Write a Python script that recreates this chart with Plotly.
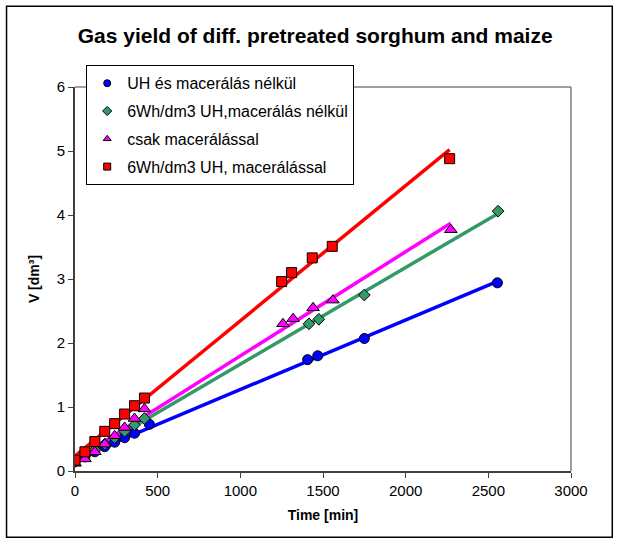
import numpy as np
import plotly.graph_objects as go

# ---- data ----
series_names = ["UH és macerálás nélkül", "6Wh/dm3 UH,macerálás nélkül",
                "csak macerálással", "6Wh/dm3 UH, macerálással"]

x_blue = [0, 60, 120, 180, 240, 300, 360, 450, 1407, 1468, 1750, 2555]
y_blue = [0.15, 0.22, 0.30, 0.38, 0.45, 0.52, 0.59, 0.73, 1.74, 1.80, 2.07, 2.94]

x_green = [0, 60, 120, 180, 240, 300, 360, 420, 1415, 1475, 1750, 2559]
y_green = [0.15, 0.24, 0.33, 0.42, 0.52, 0.62, 0.72, 0.82, 2.30, 2.37, 2.75, 4.06]

x_mag = [0, 60, 120, 180, 240, 300, 360, 420, 1258, 1319, 1440, 1560, 2273]
y_mag = [0.12, 0.19, 0.30, 0.42, 0.55, 0.68, 0.82, 0.97, 2.30, 2.38, 2.55, 2.67, 3.77]

x_red = [0, 60, 120, 180, 240, 300, 360, 420, 1250, 1310, 1435, 1556, 2266]
y_red = [0.17, 0.30, 0.46, 0.62, 0.74, 0.89, 1.02, 1.14, 2.96, 3.10, 3.33, 3.51, 4.88]

x_ticks = [0, 500, 1000, 1500, 2000, 2500, 3000]
y_ticks = [0, 1, 2, 3, 4, 5, 6]

colors = ["#0000FF", "#339966", "#FF00FF", "#FF0000"]
symbols = ["circle", "diamond", "triangle-up", "square"]
msizes = [10, 9, 11, 10]

W, H = 618, 542
L, R, T, B = 74.5, 47.3, 86.7, 71.3
pw, ph = W - L - R, H - T - B

def px(xp):
    return (xp - L) / pw

def py(yp):
    return (H - B - yp) / ph

fig = go.Figure()
data = [(x_blue, y_blue), (x_green, y_green), (x_mag, y_mag), (x_red, y_red)]

# trendlines (linear fits of each series)
for (xs, ys), c in zip(data, colors):
    k, b0 = np.polyfit(xs, ys, 1)
    xl = np.linspace(min(xs), max(xs), 2)
    fig.add_trace(go.Scatter(x=xl, y=k * xl + b0, mode="lines",
                             line=dict(color=c, width=3.5),
                             showlegend=False, hoverinfo="skip"))

# markers
for (xs, ys), c, s, m, n in zip(data, colors, symbols, msizes, series_names):
    fig.add_trace(go.Scatter(x=xs, y=ys, mode="markers", name=n,
                             marker=dict(color=c, symbol=s, size=m,
                                         line=dict(color="black", width=1)),
                             showlegend=False))

# legend entries (small markers)
for i, (c, s, n) in enumerate(zip(colors, symbols, series_names)):
    fig.add_trace(go.Scatter(x=[None], y=[None], mode="markers", name=n,
                             legendgroup=str(i),
                             marker=dict(color=c, symbol=s, size=7,
                                         line=dict(color="black", width=1))))

fig.update_layout(
    width=W, height=H,
    margin=dict(l=L, r=R, t=T, b=B),
    paper_bgcolor="white", plot_bgcolor="white",
    font=dict(family="Liberation Sans, Arial", color="black", size=15),
    title=dict(text="<b>Gas yield of diff. pretreated sorghum and maize</b>",
               x=0.51, xanchor="center", y=1 - 36 / H, yanchor="middle",
               font=dict(size=21, color="black")),
    xaxis=dict(range=[0, 3000], tickvals=x_ticks, showgrid=False, zeroline=False,
               showline=True, linecolor="#404040", linewidth=2,
               ticks="outside", ticklen=5, tickcolor="#404040", tickwidth=1,
               tickfont=dict(size=15),
               title=dict(text="<b>Time [min]</b>", font=dict(size=14), standoff=12)),
    yaxis=dict(range=[0, 6], tickvals=y_ticks, showgrid=False, zeroline=False,
               showline=True, linecolor="#404040", linewidth=2,
               ticks="outside", ticklen=5, tickcolor="#404040", tickwidth=1,
               tickfont=dict(size=15),
               title=dict(text="<b>V [dm³]</b>", font=dict(size=14), standoff=14)),
    legend=dict(x=px(85.7), y=py(65), xanchor="left", yanchor="top",
                bgcolor="white", bordercolor="black", borderwidth=1,
                font=dict(size=16), tracegroupgap=4, traceorder="grouped"),
    shapes=[
        # plot area border (top/right) in gray
        dict(type="line", xref="paper", yref="paper", x0=0, x1=1, y0=1, y1=1,
             line=dict(color="#808080", width=1.5), layer="below"),
        dict(type="line", xref="paper", yref="paper", x0=1, x1=1, y0=0, y1=1,
             line=dict(color="#808080", width=1.5), layer="below"),
        # outer chart border
        dict(type="rect", xref="paper", yref="paper",
             x0=px(6), x1=px(612), y0=py(537), y1=py(6),
             line=dict(color="black", width=1.5), fillcolor="rgba(0,0,0,0)"),
    ],
)

fig.write_html("out.html")
